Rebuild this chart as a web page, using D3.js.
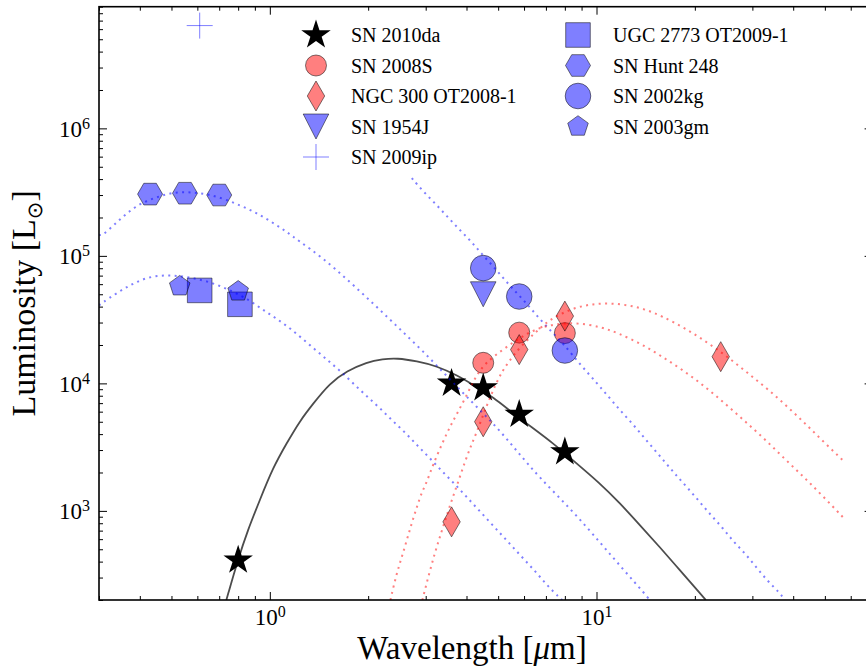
<!DOCTYPE html>
<html><head><meta charset="utf-8">
<script src="https://cdn.jsdelivr.net/npm/d3@7"></script>
<style>
body{margin:0;background:#fff}
svg{display:block}
text{font-family:"Liberation Serif","Times New Roman",serif;fill:#000}
</style>
</head><body>
<svg id="c" width="866" height="670"></svg>
<script>
// ---------------- data ----------------
const xDomain = [0.3, 70];          // wavelength [micron]
const yDomain = [200, 9e6];         // luminosity [Lsun]
const xMajorTicks = [1, 10];
const yMajorTicks = [1e3, 1e4, 1e5, 1e6];

const sn2010daWl = [0.8, 3.6, 4.5, 5.8, 8.0];
const sn2010daL  = [410, 10000, 9200, 5700, 2900];
const sn2008sWl  = [4.5, 5.8, 8.0];
const sn2008sL   = [14500, 25000, 24800];
const ngc300Wl   = [3.6, 4.5, 5.8, 8.0, 24];
const ngc300L    = [820, 5000, 18400, 33700, 16200];
const sn1954jWl  = [4.5];
const sn1954jL   = [50000];
const sn2009ipWl = [0.61];
const sn2009ipL  = [6.4e6];
const ugc2773Wl  = [0.61, 0.81];
const ugc2773L   = [53600, 41700];
const hunt248Wl  = [0.43, 0.55, 0.70];
const hunt248L   = [305000, 310000, 300000];
const sn2002kgWl = [4.5, 5.8, 8.0];
const sn2002kgL  = [80200, 48000, 18100];
const sn2003gmWl = [0.53, 0.80];
const sn2003gmL  = [57800, 52700];

// fitted SED curves: [wavelength, luminosity]
const fitSN2010da = [[0.736,200],[0.739,207],[0.798,411],[0.856,706],[0.932,1216],[1.021,2166],[1.127,3403],[1.235,5063],[1.354,6880],[1.526,10050],[1.721,12490],[1.981,14690],[2.218,15510],[2.447,15790],[2.818,14960],[3.245,13670],[3.736,11620],[4.301,9354],[4.816,7808],[5.544,5850],[6.383,4460],[7.348,3403],[8.46,2503],[10.23,1652],[11.79,1151],[13.57,774],[15.62,520],[17.99,343],[20.71,227],[21.61,200]];
const fitHunt248 = [[0.3,147000],[0.306,143000],[0.333,174400],[0.365,216600],[0.403,259500],[0.451,289200],[0.508,316500],[0.573,316500],[0.646,305200],[0.728,278900],[0.821,245800],[0.912,216600],[1.014,184100],[1.119,156500],[1.227,130700],[1.443,97900],[1.733,64600],[2.081,41880],[2.465,27640],[2.94,17920],[3.506,11210],[4.153,7135],[4.953,4543],[5.742,2892],[6.707,1808],[8.402,1015],[10.23,569],[12.04,350],[14.16,219],[14.56,200]];
const fitSN2003gm = [[0.3,41000],[0.306,42640],[0.34,51090],[0.378,60100],[0.423,68200],[0.477,70700],[0.538,69440],[0.606,65770],[0.683,60100],[0.765,52960],[0.856,45840],[0.945,38250],[1.043,32530],[1.151,27150],[1.262,22260],[1.393,17920],[1.526,14690],[1.673,12040],[1.833,9524],[1.995,7808],[2.187,6286],[2.379,5062],[2.608,4076],[2.838,3223],[3.089,2595],[3.361,2052],[3.659,1652],[3.981,1307],[4.332,1033],[4.714,817],[5.13,646],[5.544,520],[6.033,411],[6.567,325],[7.096,257],[7.723,207],[7.85,200]];
const fitSN2002kg = [[2.72,407600],[2.94,322300],[3.199,259500],[3.482,205200],[3.789,162300],[4.124,130700],[4.456,103300],[4.85,81700],[5.241,64600],[5.702,51090],[6.206,40400],[6.707,31940],[7.298,25260],[7.886,20710],[8.889,14170],[10.02,10060],[10.91,7808],[11.79,6175],[12.83,4883],[13.86,3862],[14.98,3053],[16.3,2371],[17.61,1875],[19.03,1510],[20.71,1172],[22.38,927],[24.36,733],[26.32,569],[28.64,458],[30.95,356],[33.45,281],[36.4,227],[37.7,200]];
const fitSN2008S = [[2.34,200],[2.346,207],[2.447,325],[2.535,434],[2.626,590],[2.72,802],[2.818,1071],[2.92,1405],[3.024,1682],[3.155,2287],[3.384,3464],[3.556,4543],[3.763,5955],[4.009,8094],[4.241,11010],[4.551,14430],[5.241,18920],[6.119,24810],[7.045,28660],[8.583,30260],[10.38,27640],[11.62,24810],[13.76,20330],[15.96,16080],[18.76,12260],[21.76,9186],[25.05,6757],[28.64,4972],[32.74,3657],[37.44,2595],[42.81,1875],[48.61,1354],[57.54,862]];
const fitNGC300 = [[2.93,200],[2.94,207],[3.066,314],[3.199,467],[3.337,658],[3.482,927],[3.633,1283],[3.789,1745],[3.953,2413],[4.124,3223],[4.301,4150],[4.519,5850],[4.714,7665],[4.918,9874],[5.13,12260],[5.352,14430],[5.825,19260],[6.474,24810],[7.045,30260],[7.723,34960],[8.705,39670],[9.743,41880],[10.98,42640],[12.47,41130],[14.05,38250],[15.85,33710],[18.64,27150],[21.76,21090],[25.23,16080],[29.05,12040],[33.45,9022],[38.51,6518],[44.03,4710],[49.99,3402],[57.54,2413]];

const legendCol1 = ["SN 2010da","SN 2008S","NGC 300 OT2008-1","SN 1954J","SN 2009ip"];
const legendCol2 = ["UGC 2773 OT2009-1","SN Hunt 248","SN 2002kg","SN 2003gm"];

// ---------------- layout ----------------
const svg = d3.select("#c");
const L0 = 99, R0 = 872.6, T0 = 6.7, B0 = 600;
const x = d3.scaleLog().domain(xDomain).range([L0, R0]);
const y = d3.scaleLog().domain(yDomain).range([B0, T0]);

svg.append("defs").append("clipPath").attr("id","clip")
  .append("rect").attr("x",L0).attr("y",T0).attr("width",R0-L0).attr("height",B0-T0);

// ---------------- marker shapes ----------------
function poly(pts){ return "M" + pts.map(p=>p[0].toFixed(2)+","+p[1].toFixed(2)).join("L") + "Z"; }
function regular(n, r, startDeg){
  const pts=[]; for(let i=0;i<n;i++){const a=(startDeg+i*360/n)*Math.PI/180; pts.push([r*Math.cos(a), r*Math.sin(a)]);}
  return poly(pts);
}
function starPath(R){
  const pts=[], ri=R*0.381966;
  for(let i=0;i<10;i++){const a=(-90+i*36)*Math.PI/180, r=i%2?ri:R; pts.push([r*Math.cos(a), r*Math.sin(a)]);}
  return poly(pts);
}
function circlePath(r){ return `M${r},0A${r},${r} 0 1,1 ${-r},0A${r},${r} 0 1,1 ${r},0Z`; }
const shapes = {
  star: starPath(15.5),
  circleS: circlePath(10.5),
  circleL: circlePath(12.8),
  thinDiamond: poly([[0,-15],[8.7,0],[0,15],[-8.7,0]]),
  triDown: poly([[-12.8,-12.5],[12.8,-12.5],[0,12.5]]),
  plus: "M-13,0H13M0,-13V13",
  square: poly([[-12.3,-12.3],[12.3,-12.3],[12.3,12.3],[-12.3,12.3]]),
  hexagon: regular(6, 12.5, 0),
  pentagon: regular(5, 10.8, -90)
};

const RED="#ff0000", BLUE="#0000ff";
const series = [
  {name:"SN 2010da", wl:sn2010daWl, L:sn2010daL, shape:"star", fill:"#000", fo:1, stroke:"none"},
  {name:"SN 2008S", wl:sn2008sWl, L:sn2008sL, shape:"circleS", fill:RED, fo:0.5, stroke:"#000"},
  {name:"NGC 300 OT2008-1", wl:ngc300Wl, L:ngc300L, shape:"thinDiamond", fill:RED, fo:0.5, stroke:"#000"},
  {name:"SN 1954J", wl:sn1954jWl, L:sn1954jL, shape:"triDown", fill:BLUE, fo:0.5, stroke:"#000"},
  {name:"SN 2009ip", wl:sn2009ipWl, L:sn2009ipL, shape:"plus", fill:"none", fo:0, stroke:BLUE, line:true},
  {name:"UGC 2773 OT2009-1", wl:ugc2773Wl, L:ugc2773L, shape:"square", fill:BLUE, fo:0.5, stroke:"#000"},
  {name:"SN Hunt 248", wl:hunt248Wl, L:hunt248L, shape:"hexagon", fill:BLUE, fo:0.5, stroke:"#000"},
  {name:"SN 2002kg", wl:sn2002kgWl, L:sn2002kgL, shape:"circleL", fill:BLUE, fo:0.5, stroke:"#000"},
  {name:"SN 2003gm", wl:sn2003gmWl, L:sn2003gmL, shape:"pentagon", fill:BLUE, fo:0.5, stroke:"#000"}
];
function styleMarker(sel, s){
  sel.attr("d", shapes[s.shape])
     .attr("fill", s.fill).attr("fill-opacity", s.fo)
     .attr("stroke", s.stroke)
     .attr("stroke-opacity", 0.5)
     .attr("stroke-width", 1);
}

// ---------------- markers ----------------
const gm = svg.append("g").attr("clip-path","url(#clip)");
series.forEach(s=>{
  const pts = s.wl.map((w,i)=>[w, s.L[i]]);
  gm.selectAll(null).data(pts).enter().append("path")
    .attr("transform", d=>`translate(${x(d[0])},${y(d[1])})`)
    .call(sel=>styleMarker(sel, s));
});

// ---------------- curves ----------------
const line = d3.line().x(d=>x(d[0])).y(d=>y(d[1])).curve(d3.curveBasis);
const gc = svg.append("g").attr("clip-path","url(#clip)");
function dotted(data, color){
  gc.append("path").datum(data).attr("d", line).attr("fill","none")
    .attr("stroke", color).attr("stroke-opacity", 0.5).attr("stroke-width", 2)
    .attr("stroke-dasharray","2,4.4");
}
gc.append("path").datum(fitSN2010da).attr("d", line).attr("fill","none")
  .attr("stroke","#000").attr("stroke-opacity",0.7).attr("stroke-width",1.8);
dotted(fitHunt248, BLUE);
dotted(fitSN2003gm, BLUE);
dotted(fitSN2002kg, BLUE);
dotted(fitSN2008S, RED);
dotted(fitNGC300, RED);

// ---------------- axes ----------------
const xMinor = x.ticks().filter(v=>!xMajorTicks.some(m=>Math.abs(m-v)<1e-9));
const yMinor = y.ticks().filter(v=>!yMajorTicks.some(m=>Math.abs(m-v)/m<1e-9));

function axisG(gen, tr){
  const g = svg.append("g").attr("transform", tr).call(gen);
  g.select(".domain").remove();
  g.selectAll(".tick line").attr("stroke","#000").attr("stroke-width",1);
  return g;
}
// minor ticks
axisG(d3.axisBottom(x).tickValues(xMinor).tickSizeInner(-4).tickSizeOuter(0).tickFormat(""), `translate(0,${B0})`);
axisG(d3.axisTop(x).tickValues(xMinor).tickSizeInner(-4).tickSizeOuter(0).tickFormat(""), `translate(0,${T0})`);
axisG(d3.axisLeft(y).tickValues(yMinor).tickSizeInner(-4).tickSizeOuter(0).tickFormat(""), `translate(${L0},0)`);
axisG(d3.axisRight(y).tickValues(yMinor).tickSizeInner(-4).tickSizeOuter(0).tickFormat(""), `translate(${R0},0)`);
// major ticks
const gxb = axisG(d3.axisBottom(x).tickValues(xMajorTicks).tickSizeInner(-8).tickSizeOuter(0).tickPadding(0), `translate(0,${B0})`);
axisG(d3.axisTop(x).tickValues(xMajorTicks).tickSizeInner(-8).tickSizeOuter(0).tickFormat(""), `translate(0,${T0})`);
const gyl = axisG(d3.axisLeft(y).tickValues(yMajorTicks).tickSizeInner(-8).tickSizeOuter(0).tickPadding(9), `translate(${L0},0)`);
axisG(d3.axisRight(y).tickValues(yMajorTicks).tickSizeInner(-8).tickSizeOuter(0).tickFormat(""), `translate(${R0},0)`);

function powLabel(sel){
  sel.each(function(d){
    const t = d3.select(this);
    t.text(null).attr("font-size", 23).attr("font-family", '"Liberation Serif",serif');
    t.append("tspan").text("10");
    t.append("tspan").attr("font-size", 16).attr("dy", -8).text(Math.round(Math.log10(d)));
  });
}
gxb.selectAll(".tick text").attr("y", 25).attr("dy", 0).attr("dx", 0).call(powLabel);
gyl.selectAll(".tick text").attr("dy", 8).call(powLabel);

// frame
svg.append("rect").attr("x",L0).attr("y",T0).attr("width",R0-L0).attr("height",B0-T0)
  .attr("fill","none").attr("stroke","#000").attr("stroke-width",1.6);

// axis labels
const xl = svg.append("text").attr("x",472).attr("y",659).attr("text-anchor","middle").attr("font-size",33);
xl.append("tspan").text("Wavelength [");
xl.append("tspan").attr("font-style","italic").text("μ");
xl.append("tspan").text("m]");

const yl = svg.append("text").attr("transform",`translate(35,${(T0+B0)/2}) rotate(-90)`).attr("text-anchor","middle").attr("font-size",34);
yl.append("tspan").text("Luminosity [L");
yl.append("tspan").attr("font-size",21).attr("dy",7).attr("font-family",'"DejaVu Sans",sans-serif').text("⊙");
yl.append("tspan").attr("dy",-7).text("]");

// ---------------- legend ----------------
const lg = svg.append("g");
function legendCol(names, mx, tx){
  names.forEach((n,i)=>{
    const s = series.find(z=>z.name===n);
    const ry = 35 + 30.5*i;
    lg.append("path").attr("transform",`translate(${mx},${ry})`).call(sel=>styleMarker(sel,s));
    lg.append("text").attr("x",tx).attr("y",ry+7).attr("font-size",20).text(n);
  });
}
legendCol(legendCol1, 316, 351);
legendCol(legendCol2, 578, 613);
</script>
</body></html>
